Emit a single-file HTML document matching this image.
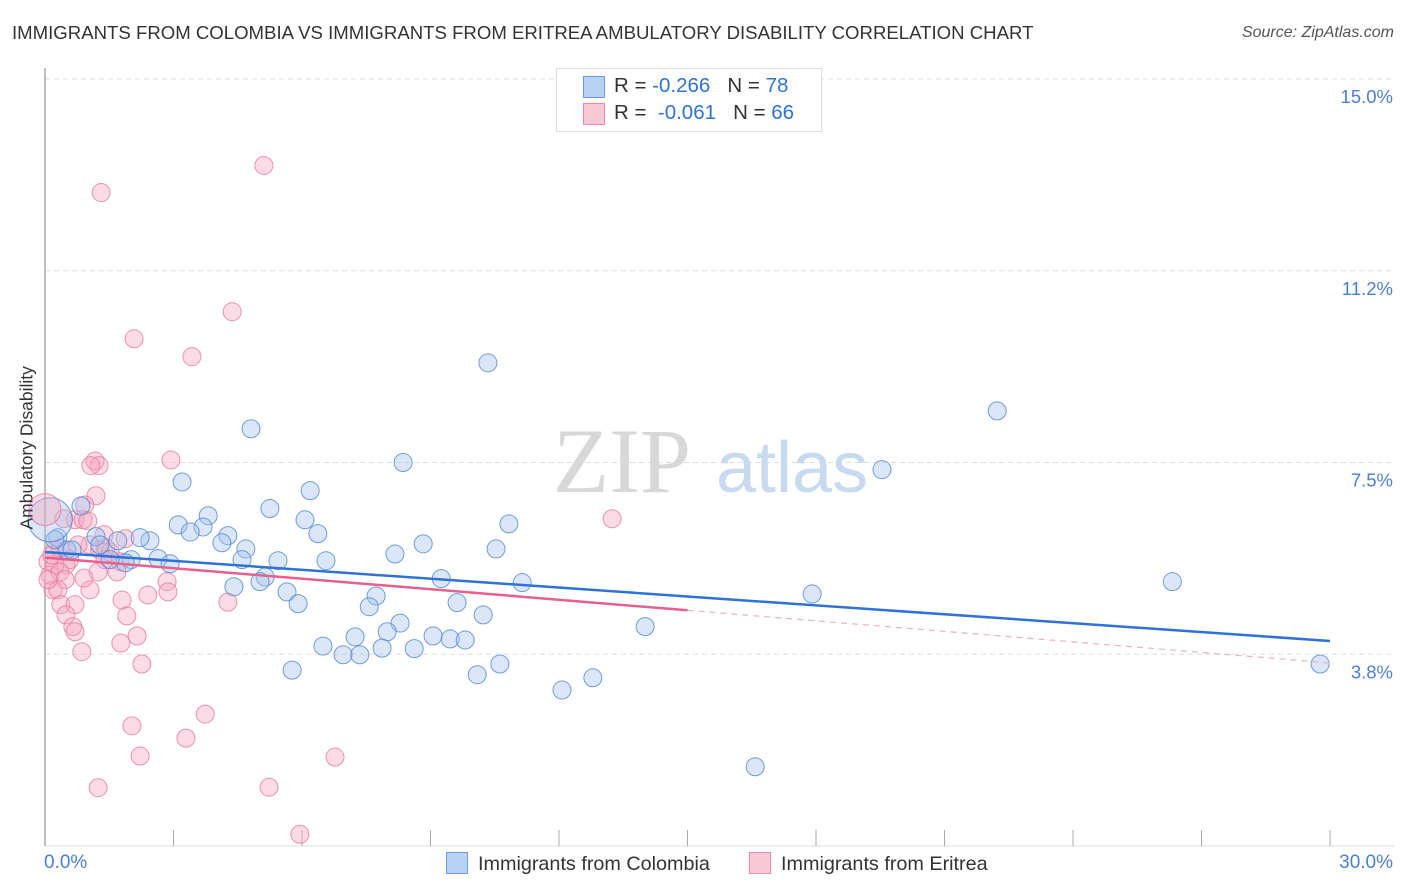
<!DOCTYPE html>
<html><head><meta charset="utf-8"><style>
body{margin:0;background:#fff;font-family:"Liberation Sans",sans-serif;}
#wrap{position:relative;width:1406px;height:892px;overflow:hidden}
.t{position:absolute;white-space:nowrap}
</style></head><body>
<div id="wrap">
<div class="t" style="left:12px;top:22px;font-size:18.6px;color:#333">IMMIGRANTS FROM COLOMBIA VS IMMIGRANTS FROM ERITREA AMBULATORY DISABILITY CORRELATION CHART</div>
<div class="t" style="right:12px;top:24px;font-size:16px;color:#555;font-style:italic">Source: ZipAtlas.com</div>
<svg id="svg" width="1406" height="892" style="position:absolute;left:0;top:0"></svg>
</div>
<script>
const blueX=[10.34,22.23,4.81,8.36,19.54,3.20,6.19,0.84,5.25,3.81,6.07,10.83,3.11,3.69,3.39,4.27,6.37,2.45,2.22,1.19,1.70,0.30,8.83,4.69,10.53,4.13,8.17,4.60,5.44,6.56,2.64,2.92,2.01,1.87,1.52,0.51,9.25,5.14,5.02,11.14,26.32,4.41,5.65,7.73,17.91,5.91,9.62,7.57,8.29,10.23,14.01,7.99,9.06,7.24,9.46,9.81,6.49,7.87,8.62,6.96,7.35,5.77,10.62,10.09,12.07,12.79,29.77,16.58,0.23,0.63,1.28];
const blueY=[9.45,8.51,8.16,7.50,7.36,7.12,6.95,6.65,6.60,6.46,6.38,6.30,6.28,6.24,6.14,6.07,6.11,5.97,6.03,6.05,5.97,6.03,5.91,5.81,5.81,5.93,5.71,5.60,5.58,5.58,5.62,5.52,5.60,5.54,5.60,5.79,5.23,5.26,5.17,5.15,5.17,5.07,4.97,4.89,4.93,4.74,4.76,4.68,4.36,4.52,4.29,4.19,4.11,4.09,4.05,4.03,3.91,3.87,3.86,3.74,3.74,3.44,3.56,3.35,3.05,3.29,3.56,1.55,5.99,5.79,5.89];
const pinkX=[5.11,1.31,4.37,2.08,3.43,2.94,1.17,1.26,1.07,1.19,0.93,13.24,0.70,0.89,1.00,0.44,1.38,1.87,1.05,0.35,0.23,0.07,0.58,0.49,1.28,1.52,1.40,1.75,0.23,0.12,0.35,0.47,1.24,1.68,0.19,0.30,2.85,2.87,2.40,1.05,1.80,4.27,0.37,0.70,0.49,1.91,0.65,0.70,2.15,1.77,0.86,2.26,2.03,3.29,3.74,2.22,6.77,1.24,5.23,5.95,0.07,0.16,0.77,0.91,1.42];
const pinkY=[13.31,12.78,10.45,9.92,9.57,7.55,7.53,7.44,7.44,6.85,6.67,6.40,6.38,6.38,6.36,6.40,6.09,6.01,5.89,5.83,5.79,5.56,5.60,5.50,5.79,5.75,5.60,5.56,5.50,5.30,5.36,5.21,5.36,5.36,5.01,5.01,5.17,4.97,4.91,5.01,4.81,4.77,4.72,4.72,4.52,4.50,4.29,4.19,4.11,3.97,3.80,3.56,2.35,2.11,2.58,1.76,1.74,1.14,1.15,0.23,5.21,5.69,5.89,5.24,5.83];
const bigBlue=[0.12,6.38], bigPink=[0.0,6.58];
const blueTrend=[5.75,4.01], pinkTrend=[5.64,3.58];
const yTicks=[15.0,11.25,7.5,3.75], yTickLabels=["15.0%","11.2%","7.5%","3.8%"];
const xTicks=[0,3,6,9,12,15,18,21,24,27,30];
const X0=45,X1=1330,YB=846;
const sx=v=>X0+v*(X1-X0)/30, sy=v=>YB-v*51.13;
const svg=document.getElementById('svg');const NS='http://www.w3.org/2000/svg';
function mk(t,a,p){const e=document.createElementNS(NS,t);for(const k in a)e.setAttribute(k,a[k]);(p||svg).appendChild(e);return e;}
yTicks.forEach((v,i)=>{const g=mk('line',{x1:X0,x2:1395,y1:sy(v),y2:sy(v),stroke:'#ddd','stroke-dasharray':'5,4'});


const t=mk('text',{x:1393,y:sy(v)+24,'text-anchor':'end','font-size':'18.5','fill':'#4a7fd6','font-family':'Liberation Sans, sans-serif'});t.textContent=yTickLabels[i];

});
const ax=mk('line',{x1:X0,x2:X0,y1:68,y2:YB,stroke:'#aaa','stroke-width':1.5});


const bx=mk('line',{x1:X0,x2:1395,y1:YB,y2:YB,stroke:'#ddd'});


xTicks.forEach(v=>{const l=mk('line',{x1:sx(v),x2:sx(v),y1:830,y2:YB,stroke:'#aaa'});

});
const w1=mk('text',{x:553,y:492,'font-size':'92','fill':'#d8d8d8','font-family':'Liberation Serif, serif'});w1.textContent='ZIP';


const w2=mk('text',{x:716,y:492,'font-size':'72','fill':'#c8daf0','font-family':'Liberation Sans, sans-serif'});w2.textContent='atlas';


function dots(xs,ys,fill,stroke,name){xs.forEach((x,i)=>{const c=mk('circle',{cx:sx(x),cy:sy(ys[i]),r:9,fill:fill,'fill-opacity':0.4,stroke:stroke,'stroke-opacity':0.8,'stroke-width':1});

});}
dots(pinkX,pinkY,'#f4a8c0','#e8789c','eritrea-point');
dots(blueX,blueY,'#a4c4ee','#4f86d6','colombia-point');
const bb=mk('circle',{cx:sx(bigBlue[0]),cy:sy(bigBlue[1]),r:22,fill:'#a4c4ee','fill-opacity':0.4,stroke:'#4f86d6','stroke-opacity':0.8});


const bp=mk('circle',{cx:sx(bigPink[0]),cy:sy(bigPink[1]),r:16,fill:'#f4a8c0','fill-opacity':0.4,stroke:'#e8789c','stroke-opacity':0.8});


const bt=mk('line',{x1:sx(0),y1:sy(blueTrend[0]),x2:sx(30),y2:sy(blueTrend[1]),stroke:'#2f72d8','stroke-width':2.5});


const pm=pinkTrend[0]+(pinkTrend[1]-pinkTrend[0])*0.5;
const pt=mk('line',{x1:sx(0),y1:sy(pinkTrend[0]),x2:sx(15),y2:sy(pm),stroke:'#e8608c','stroke-width':2.5});


const pd=mk('line',{x1:sx(15),y1:sy(pm),x2:sx(30),y2:sy(pinkTrend[1]),stroke:'#eeb0c4','stroke-width':1.2,'stroke-dasharray':'6,5'});


</script>
<div class="t" style="left:-48px;top:444px;font-size:17.5px;color:#333;transform:rotate(-90deg);transform-origin:center;width:150px;text-align:center">Ambulatory Disability</div>
<div class="t" style="left:44px;top:852px;font-size:19px;color:#4a7fd6">0.0%</div>
<div class="t" style="right:13px;top:852px;font-size:19px;color:#4a7fd6">30.0%</div>
<div style="position:absolute;left:556px;top:68px;width:264px;height:62px;border:1px solid #ddd;background:#fff;font-size:20.5px;color:#333">
 <div style="position:absolute;left:26px;top:7px;width:20px;height:20px;background:#b8d2f4;border:1px solid #6a9be0"></div>
 <div class="t" style="left:57px;top:5px">R = <span style="color:#2f72d8">-0.266</span>&nbsp;&nbsp;&nbsp;N = <span style="color:#2f72d8">78</span></div>
 <div style="position:absolute;left:26px;top:34px;width:20px;height:20px;background:#f9c8d6;border:1px solid #ec8aa8"></div>
 <div class="t" style="left:57px;top:32px">R = &nbsp;<span style="color:#2f72d8">-0.061</span>&nbsp;&nbsp;&nbsp;N = <span style="color:#2f72d8">66</span></div>
</div>
<div style="position:absolute;left:446px;top:852px;font-size:19.8px;color:#333;white-space:nowrap">
 <span style="display:inline-block;width:20px;height:20px;background:#b8d2f4;border:1px solid #6a9be0;vertical-align:-4px;margin-right:10px"></span>Immigrants from Colombia</div>
<div style="position:absolute;left:749px;top:852px;font-size:19.8px;color:#333;white-space:nowrap">
 <span style="display:inline-block;width:20px;height:20px;background:#f9c8d6;border:1px solid #ec8aa8;vertical-align:-4px;margin-right:10px"></span>Immigrants from Eritrea</div>
</body></html>
